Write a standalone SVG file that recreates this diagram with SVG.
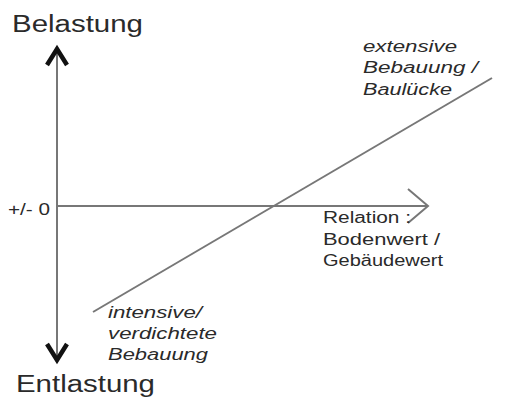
<svg xmlns="http://www.w3.org/2000/svg" width="511" height="397" viewBox="0 0 511 397">
<style>
text{font-family:"Liberation Sans",Arial,sans-serif;fill:#2a2a2a}
.big{font-size:23px}
.lab{font-size:16px}
.it{font-size:16px;font-style:italic}
.ax{stroke:#777;stroke-width:2;fill:none}
.head{stroke:#111;stroke-width:4.5;fill:none;stroke-linejoin:miter}
</style>
<rect width="511" height="397" fill="#fff"/>
<g id="connectors">
<line class="ax" x1="57" y1="50" x2="57" y2="358"/>
<polyline class="head" points="47,65 57,49 67,65"/>
<polyline class="head" points="47,344 57,360 67,344"/>
<line class="ax" x1="57" y1="206" x2="427" y2="206"/>
<polyline class="ax" points="408,189 428,206 408,223"/>
<line class="ax" x1="93" y1="312" x2="492" y2="78"/>
</g>
<g id="belastung"><text class="big" x="12" y="32" textLength="131" lengthAdjust="spacingAndGlyphs">Belastung</text></g>
<g id="entlastung"><text class="big" x="16" y="392" textLength="139" lengthAdjust="spacingAndGlyphs">Entlastung</text></g>
<g id="null"><text x="8" y="215" style="font-size:16px" textLength="42" lengthAdjust="spacingAndGlyphs">+/- 0</text></g>
<g id="relation"><text class="lab" x="323" y="223" textLength="88" lengthAdjust="spacingAndGlyphs">Relation :</text><text class="lab" x="323" y="245" textLength="117" lengthAdjust="spacingAndGlyphs">Bodenwert /</text><text class="lab" x="323" y="266" textLength="120" lengthAdjust="spacingAndGlyphs">Gebäudewert</text></g>
<g id="extensive"><text class="it" x="363" y="52" textLength="94" lengthAdjust="spacingAndGlyphs">extensive</text><text class="it" x="363" y="73" textLength="115" lengthAdjust="spacingAndGlyphs">Bebauung /</text><text class="it" x="363" y="95" textLength="89" lengthAdjust="spacingAndGlyphs">Baulücke</text></g>
<g id="intensive"><text class="it" x="108" y="318" textLength="94" lengthAdjust="spacingAndGlyphs">intensive/</text><text class="it" x="108" y="339" textLength="109" lengthAdjust="spacingAndGlyphs">verdichtete</text><text class="it" x="108" y="360" textLength="100" lengthAdjust="spacingAndGlyphs">Bebauung</text></g>
</svg>
